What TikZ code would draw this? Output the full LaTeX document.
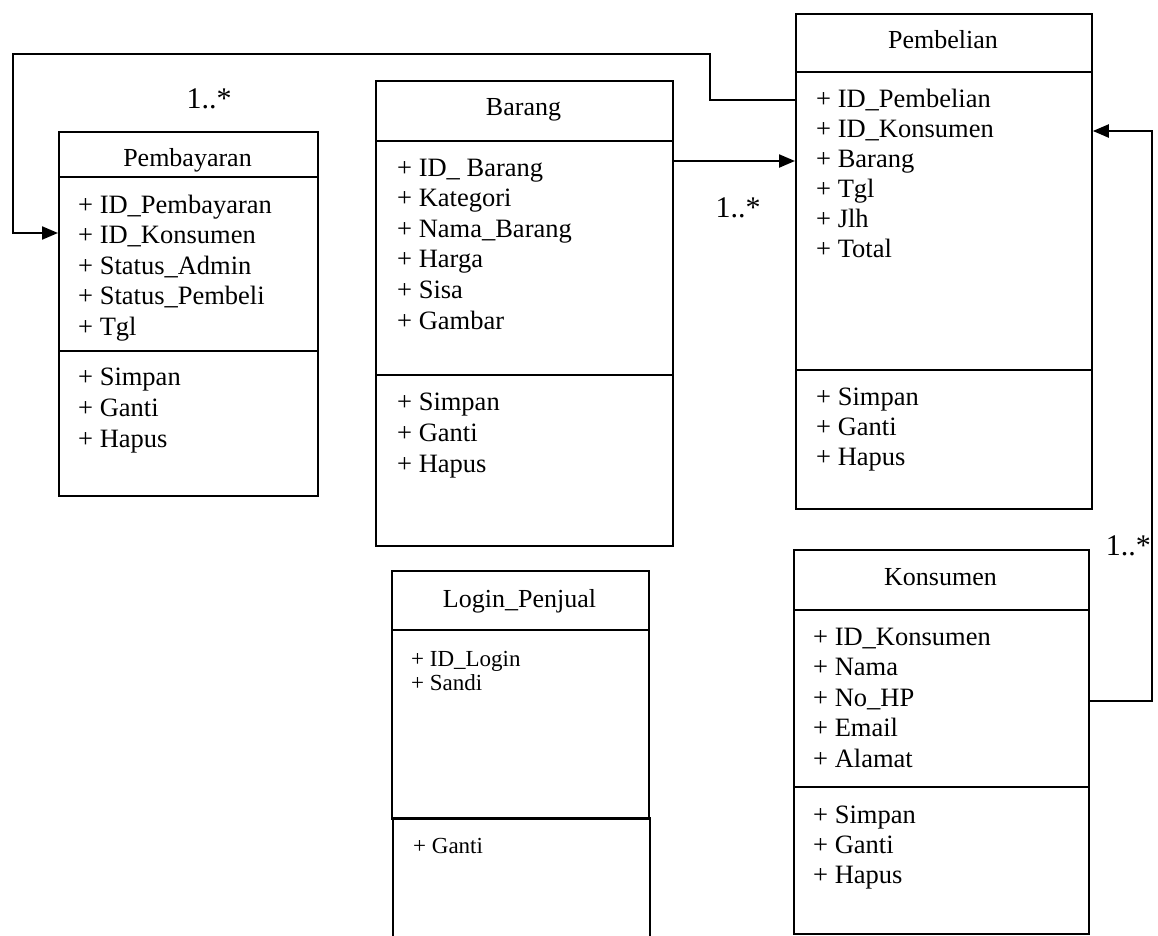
\documentclass[tikz,border=0pt]{standalone}
\usepackage{fontspec}
\setmainfont{Liberation Serif}
\usetikzlibrary{arrows.meta}

\begin{document}
\begin{tikzpicture}[x=1pt,y=-1pt,
  classbox/.style={draw, line width=1.8pt, inner sep=0pt, anchor=north west},
  rule/.style={line width=1.8pt},
  link/.style={line width=2.2pt},
  arr/.style={link,-{Triangle[length=16pt,width=13pt]}},
  title/.style={anchor=base, inner sep=0pt, font=\fontsize{26}{30}\selectfont},
  attr/.style={anchor=base west, inner sep=0pt, font=\fontsize{26.5}{30}\selectfont},
  smallattr/.style={anchor=base west, inner sep=0pt, font=\fontsize{23}{26}\selectfont},
  mult/.style={anchor=base, inner sep=0pt, font=\fontsize{30}{34}\selectfont}]

\useasboundingbox (0,0) rectangle (1158,935);

% ---------- Pembayaran ----------
\node[classbox, minimum width=259pt, minimum height=364pt] (pby) at (58,131) {};
\draw[rule] (pby.west |- 0,177) -- (pby.east |- 0,177);
\draw[rule] (pby.west |- 0,351) -- (pby.east |- 0,351);
\node[title] (pbyT) at (187.5,166) {Pembayaran};
\foreach \t [count=\i from 0] in {+ ID\_Pembayaran, + ID\_Konsumen, + Status\_Admin, + Status\_Pembeli, + Tgl}
  \node[attr] (pbyA\i) at (78,213+30.5*\i) {\t};
\foreach \t [count=\i from 0] in {+ Simpan, + Ganti, + Hapus}
  \node[attr] (pbyM\i) at (78,385+31*\i) {\t};

% ---------- Barang ----------
\node[classbox, minimum width=297pt, minimum height=465pt] (brg) at (375,80) {};
\draw[rule] (brg.west |- 0,141) -- (brg.east |- 0,141);
\draw[rule] (brg.west |- 0,375) -- (brg.east |- 0,375);
\node[title] (brgT) at (523.5,115) {Barang};
\foreach \t [count=\i from 0] in {+ ID\_ Barang, + Kategori, + Nama\_Barang, + Harga, + Sisa, + Gambar}
  \node[attr] (brgA\i) at (397,176+30.6*\i) {\t};
\foreach \t [count=\i from 0] in {+ Simpan, + Ganti, + Hapus}
  \node[attr] (brgM\i) at (397,410+31*\i) {\t};

% ---------- Pembelian ----------
\node[classbox, minimum width=296pt, minimum height=495pt] (pbl) at (795,13) {};
\draw[rule] (pbl.west |- 0,72) -- (pbl.east |- 0,72);
\draw[rule] (pbl.west |- 0,370) -- (pbl.east |- 0,370);
\node[title] (pblT) at (943,48) {Pembelian};
\foreach \t [count=\i from 0] in {+ ID\_Pembelian, + ID\_Konsumen, + Barang, + Tgl, + Jlh, + Total}
  \node[attr] (pblA\i) at (816,107+30*\i) {\t};
\foreach \t [count=\i from 0] in {+ Simpan, + Ganti, + Hapus}
  \node[attr] (pblM\i) at (816,405+30*\i) {\t};

% ---------- Konsumen ----------
\node[classbox, minimum width=295pt, minimum height=384pt] (kns) at (793,549) {};
\draw[rule] (kns.west |- 0,610) -- (kns.east |- 0,610);
\draw[rule] (kns.west |- 0,787) -- (kns.east |- 0,787);
\node[title] (knsT) at (940.5,585) {Konsumen};
\foreach \t [count=\i from 0] in {+ ID\_Konsumen, + Nama, + No\_HP, + Email, + Alamat}
  \node[attr] (knsA\i) at (813,645+30.5*\i) {\t};
\foreach \t [count=\i from 0] in {+ Simpan, + Ganti, + Hapus}
  \node[attr] (knsM\i) at (813,823+30*\i) {\t};

% ---------- Login_Penjual ----------
\node[classbox, minimum width=257pt, minimum height=248pt] (lgn) at (391,570) {};
\draw[rule] (lgn.west |- 0,630) -- (lgn.east |- 0,630);
% operations compartment, running past the lower edge
\draw[rule] (393,945) -- (393,818) -- (650,818) -- (650,945);
\node[title] (lgnT) at (519.5,607) {Login\_Penjual};
\node[smallattr] (lgnA0) at (411,666) {+ ID\_Login};
\node[smallattr] (lgnA1) at (411,690) {+ Sandi};
\node[smallattr] (lgnM0) at (413,853) {+ Ganti};

% ---------- Associations ----------
\coordinate (c1) at (710,54);
\coordinate (c2) at (13,54);
\draw[arr] (pbl.west |- 0,100) -| (c1) -- (c2) |- (pby.west |- 0,233);
\node[mult] (m1) at (209,108) {1..*};

\draw[arr] (brg.east |- 0,161) -- (pbl.west |- 0,161);
\node[mult] (m2) at (738,217) {1..*};

\coordinate (c3) at (1152,701);
\draw[arr] (kns.east |- 0,701) -- (c3) |- (pbl.east |- 0,131);
\node[mult, anchor=base east] (m3) at (1151,555) {1..*};

\end{tikzpicture}
\end{document}
